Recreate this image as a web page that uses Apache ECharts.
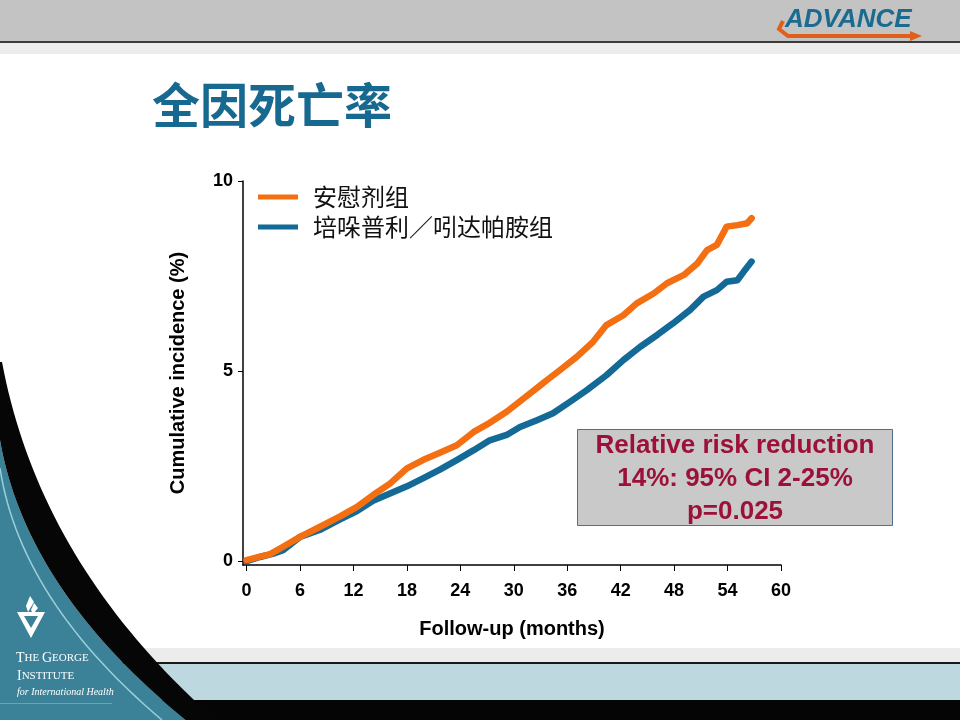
<!DOCTYPE html>
<html>
<head>
<meta charset="utf-8">
<title>全因死亡率</title>
<script src="https://cdn.jsdelivr.net/npm/echarts@6/dist/echarts.min.js"></script>
<style>
html,body{margin:0;padding:0;background:#fff;}
#main{width:960px;height:720px;}
</style>
</head>
<body>
<div id="main"></div>
<script>
// months / cumulative incidence (%)
var placeboMonths=[0,1.5,2.6,4.1,6,8.2,10.5,12.4,14.2,16.1,18,19.8,21.7,23.6,25.5,27.3,29.2,31.1,32.8,33.7,35.2,37.1,38.9,40.4,42.3,43.8,45.7,47.2,49.1,50.6,51.7,52.8,53.9,55.1,56.2,56.7];
var placeboRisk=[0.03,0.12,0.18,0.38,0.64,0.9,1.18,1.43,1.74,2.04,2.44,2.66,2.85,3.05,3.4,3.64,3.93,4.28,4.59,4.76,5.03,5.38,5.77,6.21,6.47,6.78,7.04,7.31,7.53,7.83,8.18,8.32,8.8,8.84,8.89,9.02];
var activeMonths=[0,1.5,3,4.1,6,8.2,10.5,12.4,14.2,16.1,18,19.8,21.7,23.6,25.5,27.3,29.2,30.7,32.6,34.4,36.3,38.2,40.4,42.3,44.2,46.1,47.9,49.8,51.3,52.8,53.9,55.1,55.8,56.7];
var activeRisk=[0,0.11,0.2,0.29,0.64,0.82,1.1,1.32,1.59,1.78,1.97,2.18,2.41,2.66,2.92,3.18,3.32,3.53,3.71,3.89,4.19,4.5,4.89,5.29,5.64,5.95,6.26,6.61,6.96,7.13,7.35,7.39,7.61,7.88];

var seriesNames=['安慰剂组','培哚普利／吲达帕胺组'];
var xTicks=[0,6,12,18,24,30,36,42,48,54,60];
var yTicks=[0,5,10];
var noteLines=['Relative risk reduction','14%: 95% CI 2-25%','p=0.025'];

var ORANGE='#f36f12',BLUE='#136a96';
var SANS='"Liberation Sans",Arial,sans-serif';
var CJK='"Noto Sans CJK SC",sans-serif';

function pairs(xs,ys){
	var r=[];
	for(var i=0;i<xs.length;i++){r.push([xs[i],ys[i]]);}
	return r;
}
// points along a quadratic curve, for the slide decoration
function quad(a,c,b,n){
	var r=[];
	for(var i=0;i<=n;i++){
		var t=i/n,u=1-t;
		r.push([u*u*a[0]+2*u*t*c[0]+t*t*b[0],u*u*a[1]+2*u*t*c[1]+t*t*b[1]]);
	}
	return r;
}

var outer=quad([2,362],[40,565],[216,720],40);
var inner=quad([0,440],[26,590],[186,720],40);
var band=outer.concat(inner.slice().reverse()).concat([[0,440],[0,362]]);
var teal=inner.concat([[0,720]]);
var shine=quad([0,468],[20,600],[162,720],30);

var deco=[
	// header
	{type:'rect',shape:{x:0,y:0,width:960,height:41},style:{fill:'#c3c3c3'},z:-10},
	{type:'rect',shape:{x:0,y:41,width:960,height:2},style:{fill:'#3a3a3a'},z:-10},
	{type:'rect',shape:{x:0,y:43,width:960,height:11},style:{fill:'#ececec'},z:-10},
	{type:'polyline',shape:{points:[[783,21],[779,29],[788,36],[912,36]]},style:{stroke:'#e0601a',lineWidth:4,fill:null},z:-9},
	{type:'polygon',shape:{points:[[910,31],[922,36],[910,41]]},style:{fill:'#e0601a'},z:-9},
	{type:'text',x:785,y:7,style:{text:'ADVANCE',fill:'#1b6b90',font:'italic bold 26px "Liberation Sans Narrow","Liberation Sans",sans-serif'},z:-8},
	// footer
	{type:'rect',shape:{x:0,y:648,width:960,height:15},style:{fill:'#ececec'},z:-10},
	{type:'rect',shape:{x:0,y:662,width:960,height:2},style:{fill:'#1a1a1a'},z:-10},
	{type:'rect',shape:{x:0,y:664,width:960,height:36},style:{fill:'#bdd8df'},z:-10},
	{type:'rect',shape:{x:0,y:700,width:960,height:20},style:{fill:'#050505'},z:-10},
	// left panel
	{type:'polygon',shape:{points:teal},style:{fill:'#3b8298'},z:-7},
	{type:'polygon',shape:{points:band},style:{fill:'#060606'},z:-6},
	{type:'polyline',shape:{points:shine},style:{stroke:'#9ccfdc',lineWidth:1.5,fill:null},z:-6},
	{type:'polygon',shape:{points:[[17,612],[45,612],[31,638]]},style:{fill:'#ffffff'},z:-5},
	{type:'polygon',shape:{points:[[24,616],[38,616],[31,628]]},style:{fill:'#3b8298'},z:-5},
	{type:'polygon',shape:{points:[[30,596],[34,602],[28,612],[26,606]]},style:{fill:'#ffffff'},z:-5},
	{type:'polygon',shape:{points:[[34,603],[38,608],[33,614],[31,610]]},style:{fill:'#ffffff'},z:-5},
	{type:'text',x:16,y:651,style:{text:'{b|T}{s|HE }{b|G}{s|EORGE}',rich:{b:{fontSize:14,fill:'#fff',fontFamily:'"Liberation Serif",serif'},s:{fontSize:11,fill:'#fff',fontFamily:'"Liberation Serif",serif'}}},z:-5},
	{type:'text',x:17,y:669,style:{text:'{b|I}{s|NSTITUTE}',rich:{b:{fontSize:14,fill:'#fff',fontFamily:'"Liberation Serif",serif'},s:{fontSize:11,fill:'#fff',fontFamily:'"Liberation Serif",serif'}}},z:-5},
	{type:'text',x:17,y:687,style:{text:'for International Health',fill:'#fff',font:'italic 10px "Liberation Serif",serif'},z:-5},
	{type:'rect',shape:{x:0,y:703,width:112,height:1},style:{fill:'#6aa3b3'},z:-5},
	// note box
	{type:'rect',shape:{x:577.5,y:429.5,width:315,height:96},style:{fill:'#c9c9c9',stroke:'#50708f',lineWidth:1},z:5},
	{type:'text',x:735,y:479,style:{text:noteLines.join('\n'),fill:'#9b1139',font:'bold 26px '+SANS,textAlign:'center',textVerticalAlign:'middle',lineHeight:33},z:6}
];

var chart=echarts.init(document.getElementById('main'));
chart.setOption({
	animation:false,
	title:{text:'全因死亡率',left:147,top:76,textStyle:{fontSize:48,fontWeight:'bold',color:'#17698f',fontFamily:CJK}},
	legend:{
		data:[seriesNames[0],seriesNames[1]],
		orient:'vertical',left:258,top:185,padding:0,
		icon:'rect',itemWidth:40,itemHeight:5,itemGap:6,
		textStyle:{fontSize:24,lineHeight:24,color:'#111',fontFamily:CJK,padding:[0,0,0,10]}
	},
	grid:{left:243,right:179,top:181,bottom:155,containLabel:false},
	xAxis:{
		type:'value',min:-0.4,max:60,
		name:'Follow-up (months)',nameLocation:'middle',nameGap:54,
		nameTextStyle:{fontSize:20,fontWeight:'bold',color:'#000',fontFamily:SANS},
		axisLine:{onZero:false,lineStyle:{color:'#000',width:1.5}},
		axisTick:{show:true,length:6,customValues:xTicks,lineStyle:{color:'#000',width:1}},
		axisLabel:{customValues:xTicks,margin:17,fontSize:18,fontWeight:'bold',color:'#000',fontFamily:SANS},
		splitLine:{show:false}
	},
	yAxis:{
		type:'value',min:-0.1,max:10,
		name:'Cumulative incidence (%)',nameLocation:'middle',nameGap:55,nameRotate:90,
		nameTextStyle:{fontSize:20,fontWeight:'bold',color:'#000',fontFamily:SANS},
		axisLine:{show:true,onZero:false,lineStyle:{color:'#000',width:1.5}},
		axisTick:{show:true,length:5,customValues:yTicks,lineStyle:{color:'#000',width:1}},
		axisLabel:{customValues:yTicks,margin:10,fontSize:18,fontWeight:'bold',color:'#000',fontFamily:SANS},
		splitLine:{show:false}
	},
	series:[
		{name:seriesNames[1],type:'line',data:pairs(activeMonths,activeRisk),showSymbol:false,symbol:'none',
			lineStyle:{color:BLUE,width:6.5,cap:'round',join:'round'},itemStyle:{color:BLUE},z:2},
		{name:seriesNames[0],type:'line',data:pairs(placeboMonths,placeboRisk),showSymbol:false,symbol:'none',
			lineStyle:{color:ORANGE,width:6.5,cap:'round',join:'round'},itemStyle:{color:ORANGE},z:3}
	],
	graphic:deco
});
</script>
</body>
</html>
